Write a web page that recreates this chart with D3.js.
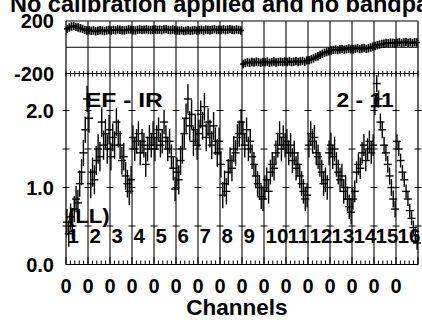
<!DOCTYPE html>
<html><head><meta charset="utf-8">
<script src="https://cdn.jsdelivr.net/npm/d3@7"></script>
<style>body{margin:0;background:#fff;overflow:hidden}svg{display:block}text{font-family:"Liberation Sans",Arial,sans-serif;font-weight:bold;fill:#000}</style>
</head><body><svg id="c" width="422" height="320"></svg>
<script>
const titleText = "No calibration applied and no bandpass applied";
const xLabel = "Channels";
const panelLabels = ["1","2","3","4","5","6","7","8","9","10","11","12","13","14","15","16"];
const xTickLabels = ["0","0","0","0","0","0","0","0","0","0","0","0","0","0","0","0"];
const phaseTicks = [200, -200];
const ampTicks = [0.0, 1.0, 2.0];
const ampHalfTicks = [0.5, 1.0, 1.5, 2.0];
const annotations = [
  {text: "EF - IR", ch: 0.86, v: 2.04, w: 78},
  {text: "2 - 11", ch: 12.3, v: 2.04, w: 57},
  {text: "(LL)", ch: 0.08, v: 0.54, w: 42}
];
// amplitude, 12 samples per channel panel
const amp = [
  0.55,0.40,0.62,0.50,0.72,0.85,0.80,1.05,1.20,1.45,1.75,2.15,
  1.90,1.05,1.20,1.10,1.35,1.50,1.40,1.85,1.55,1.70,1.50,1.75,
  1.40,1.65,1.55,1.85,1.70,1.55,1.35,1.40,1.15,1.05,0.95,1.10,
  1.65,1.50,1.60,1.70,1.45,1.60,1.55,1.30,1.50,1.65,1.55,1.70,
  1.50,1.65,1.75,1.55,1.60,1.85,1.65,1.50,1.60,1.40,1.25,0.98,
  1.20,1.10,1.35,1.50,1.70,1.90,2.15,1.80,1.95,1.60,1.75,1.55,
  1.70,1.95,1.80,2.05,1.65,1.85,1.70,1.55,1.80,1.60,1.45,1.60,
  1.30,0.90,1.05,0.95,1.20,1.35,1.25,1.50,1.45,1.65,1.70,1.85,
  1.70,1.55,1.75,1.50,1.60,1.40,1.30,1.15,1.05,1.00,0.88,0.85,
  1.00,1.10,0.95,1.20,1.30,1.25,1.45,1.55,1.70,1.50,1.65,1.55,
  1.60,1.45,1.55,1.35,1.45,1.25,1.30,1.15,1.05,0.95,0.85,0.90,
  1.55,1.70,1.60,1.65,1.45,1.40,1.30,1.20,1.05,1.10,1.00,1.45,
  1.55,1.40,1.50,1.30,1.20,1.10,1.15,0.95,1.00,0.85,0.75,0.68,
  0.85,0.95,1.20,1.30,1.25,1.45,1.55,1.35,1.50,1.60,1.45,1.55,
  2.05,2.35,2.15,1.85,1.75,1.55,1.45,1.30,1.15,1.00,0.85,0.72,
  1.60,1.50,1.35,1.20,1.10,0.95,0.85,0.70,0.60,0.48,0.38,0.28
];
const ampErr = [0.17,0.19,0.18,0.16,0.16,0.19,0.18,0.17,0.16,0.16,0.16,0.16,0.16,0.14,0.11,0.09];
// phase (degrees), 10 samples per channel panel
const phase = [
  140,150,158,162,155,150,145,140,132,128,
  130,125,128,122,126,130,127,124,128,131,
  128,132,130,135,133,130,128,132,136,134,
  130,128,133,135,131,134,136,132,130,133,
  135,132,134,130,136,138,133,131,134,130,
  128,126,130,124,127,129,125,128,131,127,
  130,133,128,135,132,130,134,137,131,133,
  132,136,130,134,138,133,131,135,132,128,
  -128,-120,-115,-118,-112,-116,-110,-114,-118,-112,
  -115,-110,-118,-113,-108,-116,-112,-110,-114,-108,
  -112,-108,-114,-110,-106,-112,-108,-104,-110,-100,
  -98,-92,-85,-75,-68,-58,-50,-42,-36,-30,
  -25,-20,-18,-22,-15,-12,-18,-14,-10,-16,
  -15,-12,-8,-14,-10,-6,-12,-8,-2,5,
  10,15,20,25,28,32,30,35,33,30,
  35,38,32,36,40,34,37,33,38,36
];
const phaseErr = 32;

const svg = d3.select("#c");
const L = 66, R = 418;
const x = d3.scaleLinear().domain([0, 16]).range([L, R]);
const yP = d3.scaleLinear().domain([-200, 200]).range([73.5, 21]);
const yA = d3.scaleLinear().domain([0, 2.5]).range([264.5, 72]);
const ampPer = 12, phPer = 10;
const chx = (i, per) => Math.floor(i / per) + ((i % per) + 0.5) / per;

// title
svg.append("text").attr("x", 10).attr("y", 12).attr("font-size", 23.5).text(titleText);

// frame + vertical lines
const g = svg.append("g");
d3.range(0, 17).forEach(c => {
  g.append("line").attr("x1", x(c)).attr("x2", x(c)).attr("y1", 21).attr("y2", 264.5)
    .attr("stroke", (c === 0 || c === 16) ? "#000" : "#555").attr("stroke-width", (c === 0 || c === 16) ? 1.2 : 1.6);
});
[21, yP(0), 73.5, 264.5].forEach(yy => {
  g.append("line").attr("x1", L).attr("x2", R).attr("y1", yy).attr("y2", yy).attr("stroke", "#000").attr("stroke-width", 1.2);
});
// minor ticks
d3.range(0, 16.01, 0.2).forEach(c => {
  const major = Math.abs(c - Math.round(c)) < 1e-6;
  g.append("line").attr("x1", x(c)).attr("x2", x(c)).attr("y1", 71).attr("y2", 76.5).attr("stroke", "#000");
  g.append("line").attr("x1", x(c)).attr("x2", x(c)).attr("y1", 264.5).attr("y2", major ? 257 : 260.5).attr("stroke", "#000");
});
// half-unit ticks on vertical lines
d3.range(0, 17).forEach(c => {
  ampHalfTicks.forEach(v => {
    g.append("line").attr("x1", x(c) - 3.5).attr("x2", x(c) + 3.5).attr("y1", yA(v)).attr("y2", yA(v)).attr("stroke", "#000");
  });
});

// y tick labels
svg.selectAll(".pt").data(phaseTicks).join("text").attr("class", "pt")
  .attr("x", 54).attr("y", d => yP(d) + 7).attr("text-anchor", "end").attr("font-size", 20).text(d => d);
svg.selectAll(".at").data(ampTicks).join("text").attr("class", "at")
  .attr("x", 54).attr("y", d => yA(d) + 7).attr("text-anchor", "end").attr("font-size", 20).text(d => d.toFixed(1));
// x tick labels
svg.selectAll(".xt").data(xTickLabels).join("text").attr("class", "xt")
  .attr("x", (d, i) => x(i)).attr("y", 293).attr("text-anchor", "middle").attr("font-size", 20).text(d => d);
svg.append("text").attr("x", 237).attr("y", 315).attr("text-anchor", "middle").attr("font-size", 22.5).text(xLabel);

// phase points
const gp = svg.append("g").attr("stroke", "#000").attr("stroke-width", 1.7);
phase.forEach((v, i) => {
  const cx = x(chx(i, phPer));
  gp.append("line").attr("x1", cx).attr("x2", cx).attr("y1", yP(v - phaseErr)).attr("y2", yP(v + phaseErr));
  gp.append("line").attr("x1", cx - 3).attr("x2", cx + 3).attr("y1", yP(v)).attr("y2", yP(v));
});

// annotations and panel numbers
svg.selectAll(".pl").data(panelLabels).join("text").attr("class", "pl")
  .attr("x", (d, i) => x(i) + 1.5).attr("y", 243).attr("font-size", 20.5).text(d => d);
svg.selectAll(".an").data(annotations).join("text").attr("class", "an")
  .attr("x", d => x(d.ch)).attr("y", d => yA(d.v)).attr("font-size", 21)
  .attr("textLength", d => d.w).attr("lengthAdjust", "spacingAndGlyphs").text(d => d.text);

// amplitude points
const ga = svg.append("g").attr("stroke", "#000").attr("stroke-width", 1.4);
amp.forEach((v, i) => {
  const cx = x(chx(i, ampPer));
  const e = ampErr[Math.floor(i / ampPer)];
  ga.append("line").attr("x1", cx).attr("x2", cx).attr("y1", yA(v - e)).attr("y2", yA(v + e));
  ga.append("line").attr("x1", cx - 4).attr("x2", cx + 4).attr("y1", yA(v)).attr("y2", yA(v));
});
</script></body></html>
